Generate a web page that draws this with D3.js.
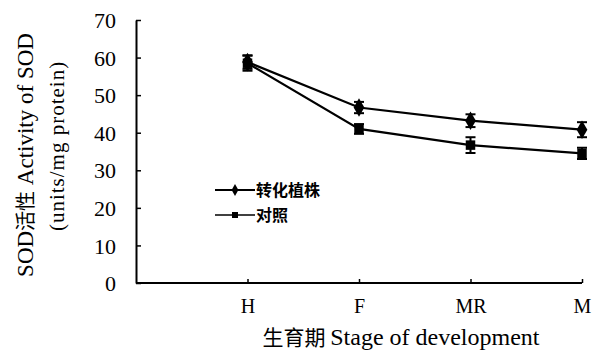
<!DOCTYPE html>
<html><head><meta charset="utf-8">
<script src="https://cdn.jsdelivr.net/npm/d3@7"></script>
<style>body{margin:0;background:#fff}svg{display:block}</style>
</head><body>
<svg id="c" width="594" height="350"></svg>
<script>
const categories = ["H","F","MR","M"];
const transgenic = [58.8, 46.7, 43.2, 40.8];
const transgenicErr = [1.8, 1.5, 1.7, 2.0];
const control = [58.5, 41.0, 36.7, 34.5];
const controlErr = [2.0, 1.3, 2.1, 1.5];
const yTicks = [0,10,20,30,40,50,60,70];
const seriesNames = ["转化植株","对照"];

const svg = d3.select("#c");
const L = 136, R = 582, T = 20, B = 283;
const step = (R - L) / 4;
const x = d3.scalePoint().domain(categories).range([L + step, R]);
const y = d3.scaleLinear().domain([0,70]).range([B, T]);
const serif = "'Liberation Serif','Times New Roman',serif";
const cjk = "'Noto Sans CJK SC',sans-serif";

// Y axis
const ya = svg.append("g").attr("transform",`translate(${L},0)`)
  .call(d3.axisLeft(y).tickValues(yTicks).tickSize(-5).tickPadding(20).tickSizeOuter(0));
ya.select(".domain").attr("stroke","#000").attr("stroke-width",2);
ya.selectAll(".tick line").attr("stroke","#000").attr("stroke-width",1.5);
ya.selectAll(".tick text").attr("font-family",serif).attr("font-size",22).attr("fill","#000").attr("dy","0.35em");

// X axis
const xa = svg.append("g").attr("transform",`translate(0,${B})`)
  .call(d3.axisBottom(x).tickSize(-4).tickPadding(16).tickSizeOuter(0));
xa.select(".domain").remove();
xa.append("line").attr("x1",L).attr("x2",R).attr("stroke","#000").attr("stroke-width",2);
xa.selectAll(".tick line").attr("stroke","#000").attr("stroke-width",1.5);
xa.selectAll(".tick text").attr("font-family",serif).attr("font-size",20).attr("fill","#000");

// Axis titles
const yt = svg.append("text").attr("transform","translate(33,155) rotate(-90)")
  .attr("text-anchor","middle").attr("font-size",23).attr("fill","#000");
yt.append("tspan").attr("font-family",serif).text("SOD");
yt.append("tspan").attr("font-family",cjk).attr("font-size",20).text("活性");
yt.append("tspan").attr("font-family",serif).text(" Activity of  SOD");
svg.append("text").attr("transform","translate(64,146) rotate(-90)")
  .attr("text-anchor","middle").attr("font-size",21).attr("font-family",serif).attr("fill","#000")
  .attr("letter-spacing",1).text("(units/mg protein)");
const xt = svg.append("text").attr("x",401).attr("y",345).attr("text-anchor","middle")
  .attr("font-size",24).attr("fill","#000");
xt.append("tspan").attr("font-family",cjk).attr("font-size",21).text("生育期 ");
xt.append("tspan").attr("font-family",serif).text("Stage of development");

// series
const line = d3.line().x((d,i)=>x(categories[i])).y(d=>y(d));
const series = [
  {vals: transgenic, err: transgenicErr, shape: d3.symbolDiamond},
  {vals: control, err: controlErr, shape: d3.symbolSquare}
];
series.forEach(s=>{
  svg.append("path").attr("d",line(s.vals)).attr("fill","none").attr("stroke","#000").attr("stroke-width",2.2);
  s.vals.forEach((v,i)=>{
    const cx = x(categories[i]);
    const g = svg.append("g");
    g.append("line").attr("x1",cx).attr("x2",cx).attr("y1",y(v-s.err[i])).attr("y2",y(v+s.err[i])).attr("stroke","#000").attr("stroke-width",2);
    [v-s.err[i], v+s.err[i]].forEach(e=>g.append("line").attr("x1",cx-5).attr("x2",cx+5).attr("y1",y(e)).attr("y2",y(e)).attr("stroke","#000").attr("stroke-width",2));
    g.append("path").attr("d",d3.symbol().type(s.shape).size(s.shape===d3.symbolSquare?90:100)())
      .attr("transform",`translate(${cx},${y(v)})`).attr("fill","#000");
  });
});

// legend
seriesNames.forEach((n,i)=>{
  const ly = 190 + i*25;
  svg.append("line").attr("x1",215).attr("x2",255).attr("y1",ly).attr("y2",ly).attr("stroke","#000").attr("stroke-width",i===0?2:1.5);
  svg.append("path").attr("d",d3.symbol().type(series[i].shape).size(i===0?40:36)())
    .attr("transform",`translate(235,${ly})`).attr("fill","#000");
  svg.append("text").attr("x",256).attr("y",ly).attr("dy","0.35em").attr("font-family",cjk)
    .attr("font-size",16).attr("font-weight","bold").attr("fill","#000").text(n);
});
</script>
</body></html>
